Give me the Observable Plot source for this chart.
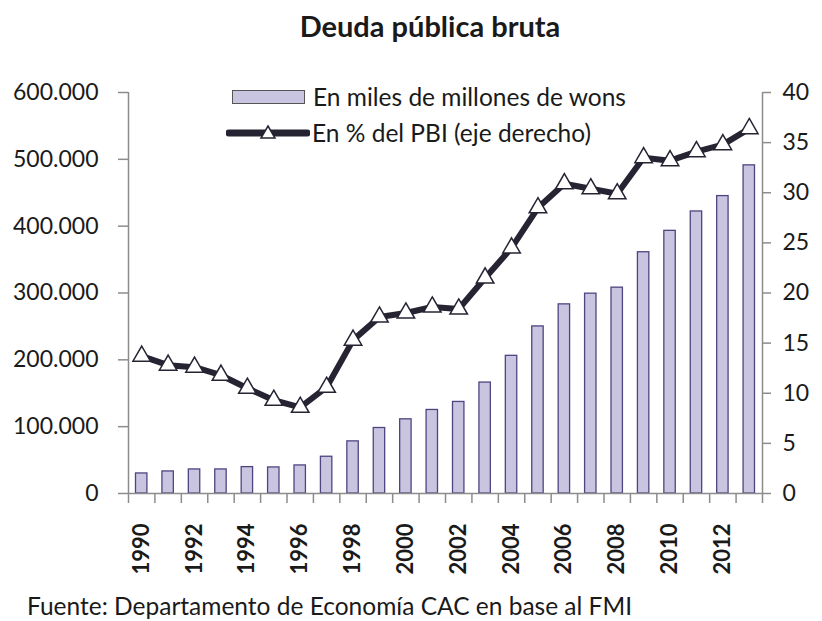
<!DOCTYPE html>
<html>
<head>
<meta charset="utf-8">
<script src="https://cdn.jsdelivr.net/npm/d3@7"></script>
<script src="https://cdn.jsdelivr.net/npm/@observablehq/plot@0.6"></script>
<style>
  body { margin: 0; background: #fff; }
  #wrap { position: relative; width: 822px; height: 621px; overflow: hidden; font-family: Lato, "Open Sans", sans-serif; color: #1a1a1a; }
  #title { position: absolute; left: 0; width: 860px; top: 8px; text-align: center; font-weight: 700; font-size: 29px; }
  #chart { position: absolute; left: 0; top: 0; }
  .leg { position: absolute; font-size: 24.5px; white-space: nowrap; line-height: 1; }
  #caption { position: absolute; left: 27px; top: 591px; font-size: 24.5px; white-space: nowrap; }
</style>
</head>
<body>
<div id="wrap">
  <div id="title">Deuda pública bruta</div>
  <div id="chart"></div>
  <div class="leg" id="leg1" style="left:232px; top:82px;">
    <span style="display:inline-block;width:71px;height:12px;background:#c9c5e0;border:1.5px solid #555;vertical-align:middle;margin-right:8px;"></span><span style="vertical-align:middle">En miles de millones de wons</span>
  </div>
  <div class="leg" id="leg2" style="left:226px; top:118px;">
    <svg width="84" height="20" style="vertical-align:middle;margin-right:2px;">
      <line x1="3" y1="10" x2="81" y2="10" stroke="#262433" stroke-width="7" stroke-linecap="round"></line>
      <path d="M42,3 L49,15 L35,15 Z" fill="#fff" stroke="#262433" stroke-width="1.5"></path>
    </svg><span style="vertical-align:middle">En % del PBI (eje derecho)</span>
  </div>
  <div id="caption">Fuente: Departamento de Economía CAC en base al FMI</div>
</div>
<script>
const years = [1990, 1991, 1992, 1993, 1994, 1995, 1996, 1997, 1998, 1999, 2000, 2001,
               2002, 2003, 2004, 2005, 2006, 2007, 2008, 2009, 2010, 2011, 2012, 2013];
const deudaWons = [30000, 33000, 36000, 36000, 39500, 39000, 42000, 55000, 78000, 98000, 111000, 125000,
                   137000, 166000, 206000, 250000, 283000, 299000, 308000, 361000, 393000, 422000, 445000, 491000];
const deudaPBI = [13.7, 12.8, 12.6, 11.8, 10.5, 9.3, 8.6, 10.6, 15.3, 17.6, 18.0, 18.6,
                  18.4, 21.5, 24.5, 28.5, 30.9, 30.4, 29.9, 33.5, 33.2, 34.1, 34.8, 36.4];
const leftTicks = [0, 100000, 200000, 300000, 400000, 500000, 600000];
const rightTicks = [0, 5, 10, 15, 20, 25, 30, 35, 40];
const yearLabels = [1990, 1992, 1994, 1996, 1998, 2000, 2002, 2004, 2006, 2008, 2010, 2012];

const data = years.map((y, i) => ({year: y, wons: deudaWons[i], pbi: deudaPBI[i]}));
const leftMax = leftTicks[leftTicks.length - 1];
const rightMax = rightTicks[rightTicks.length - 1];
const ratio = leftMax / rightMax;
const boundaries = years.map(y => y - 0.5).concat([years[years.length - 1] + 0.5]);
const xDomain = [boundaries[0], boundaries[boundaries.length - 1]];
const fmt = d => d3.format(",")(d).replace(/,/g, ".");
const axisColor = "#8c8c8c";

const chart = Plot.plot({
  width: 822,
  height: 585,
  marginLeft: 128,
  marginRight: 60,
  marginTop: 92,
  marginBottom: 92,
  style: {fontFamily: "Lato, 'Open Sans', sans-serif", fontSize: "23px", color: "#1a1a1a", background: "transparent"},
  x: {type: "linear", domain: xDomain, axis: null},
  y: {domain: [0, leftMax], axis: null},
  marks: [
    Plot.rectY(data, {x1: d => d.year - 0.5, x2: d => d.year + 0.5, y: "wons",
      insetLeft: 7.5, insetRight: 7.5, fill: "#c9c5e0", stroke: "#4d4580", strokeWidth: 1.3}),
    Plot.ruleX([xDomain[0]], {y1: 0, y2: leftMax, stroke: axisColor, strokeWidth: 1.5}),
    Plot.ruleX([xDomain[1]], {y1: 0, y2: leftMax, stroke: axisColor, strokeWidth: 1.5}),
    Plot.ruleY([0], {x1: xDomain[0], x2: xDomain[1], stroke: axisColor, strokeWidth: 1.5}),
    Plot.axisY(leftTicks, {anchor: "left", label: null, tickSize: 10, tickPadding: 20, tickFormat: fmt, stroke: axisColor, strokeWidth: 1.5, fill: "#1a1a1a"}),
    Plot.axisY(rightTicks.map(v => v * ratio), {anchor: "right", label: null, tickSize: 8, tickPadding: 12, tickFormat: d => d / ratio, stroke: axisColor, strokeWidth: 1.5, fill: "#1a1a1a"}),
    Plot.axisX(boundaries, {anchor: "bottom", label: null, tickSize: 10, tickFormat: () => "", stroke: axisColor, strokeWidth: 1.5}),
    Plot.axisX(yearLabels, {anchor: "bottom", label: null, tickSize: 0, tickRotate: -90, tickPadding: 30, tickFormat: d => String(d), fontWeight: "bold", fontSize: 22, fill: "#1a1a1a"}),
    Plot.line(data, {x: "year", y: d => d.pbi * ratio, stroke: "#262433", strokeWidth: 6, strokeLinejoin: "round"}),
    Plot.dot(data, {x: "year", y: d => d.pbi * ratio, symbol: "triangle", r: 6.5, fill: "#fff", stroke: "#262433", strokeWidth: 1.5})
  ]
});
document.getElementById("chart").appendChild(chart);
</script>
</body>
</html>
